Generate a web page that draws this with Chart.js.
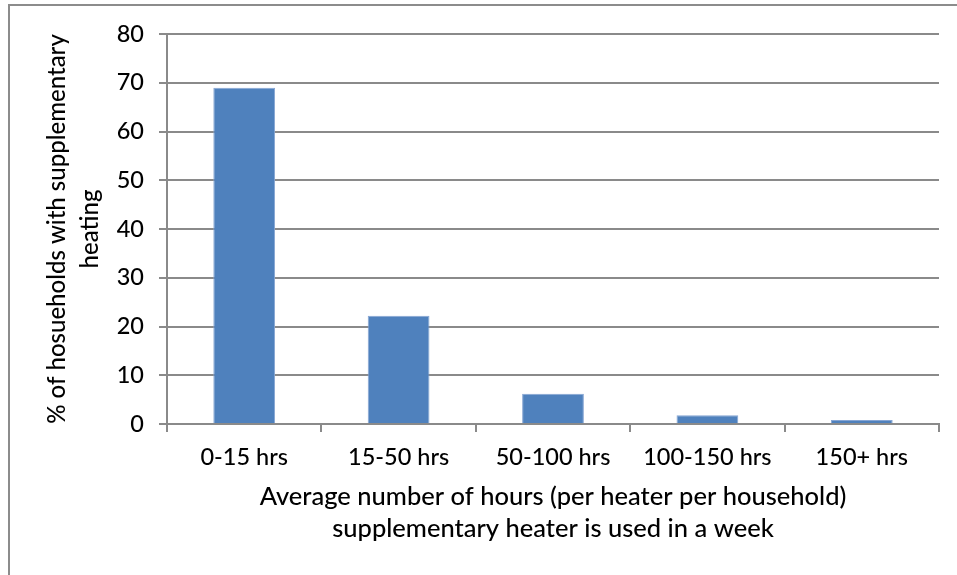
<!DOCTYPE html>
<html>
<head>
<meta charset="utf-8">
<title>Supplementary heater use per week</title>
<script src="https://cdn.jsdelivr.net/npm/chart.js@4/dist/chart.umd.min.js"></script>
<style>
  html, body { margin: 0; padding: 0; background: #ffffff; }
  #wrap { width: 957px; height: 575px; position: relative; }
  canvas { display: block; }
</style>
</head>
<body>
<div id="wrap"><canvas id="chart" width="957" height="575"></canvas></div>
<script>
// Weekly hours bands
const categories = ['0-15 hrs', '15-50 hrs', '50-100 hrs', '100-150 hrs', '150+ hrs'];
// Share of households with supplementary heating (%)
const householdShare = [69, 22.2, 6.2, 1.8, 0.8];
// Value axis range
const yMin = 0;
const yMax = 80;
const yStep = 10;
// Axis titles
const xTitleLines = ['Average number of hours (per heater per household)', 'supplementary heater is used in a week'];
const yTitleLines = ['% of hosueholds with supplementary', 'heating'];

const FONT = 'Lato, "Open Sans", "DejaVu Sans", sans-serif';
const GRID = '#8a8a8a';

// Thin frame around the whole chart object
const framePlugin = {
  id: 'frame',
  beforeDraw(chart) {
    const ctx = chart.ctx;
    ctx.save();
    ctx.strokeStyle = '#8c8c8c';
    ctx.lineWidth = 2;
    ctx.beginPath();
    ctx.moveTo(9, chart.height + 10);
    ctx.lineTo(9, 5);
    ctx.lineTo(chart.width + 10, 5);
    ctx.stroke();
    ctx.restore();
  }
};

new Chart(document.getElementById('chart'), {
  type: 'bar',
  data: {
    labels: categories,
    datasets: [{
      data: householdShare,
      backgroundColor: '#4f81bd',
      borderColor: '#86a5d3',
      borderWidth: 1,
      barPercentage: 0.4,
      categoryPercentage: 1.0
    }]
  },
  options: {
    responsive: false,
    animation: false,
    layout: { padding: { top: 34, right: 18, left: 0, bottom: 0 } },
    plugins: {
      legend: { display: false },
      tooltip: { enabled: false }
    },
    scales: {
      x: {
        afterFit(scale) { scale.height = 151; },
        grid: {
          display: true,
          offset: true,
          drawOnChartArea: false,
          drawTicks: true,
          tickLength: 8,
          color: GRID,
          lineWidth: 2
        },
        border: { display: true, color: GRID, width: 2 },
        ticks: {
          color: '#000000',
          padding: 11,
          maxRotation: 0,
          autoSkip: false,
          font: { family: FONT, size: 23.5, weight: '500' }
        },
        title: {
          display: true,
          text: xTitleLines,
          color: '#000000',
          padding: { top: 0, bottom: 29.5 },
          font: { family: FONT, size: 25.5, weight: '500', lineHeight: 32.5 / 25.5 }
        }
      },
      y: {
        min: yMin,
        max: yMax,
        afterFit(scale) { scale.width = 167; },
        grid: {
          color: GRID,
          lineWidth: 2,
          tickLength: 8,
          drawTicks: true
        },
        border: { display: true, color: GRID, width: 2 },
        ticks: {
          stepSize: yStep,
          color: '#000000',
          padding: 15,
          font: { family: FONT, size: 23.5, weight: '500' }
        },
        title: {
          display: true,
          text: yTitleLines,
          color: '#000000',
          padding: { top: 41.25, bottom: 0 },
          font: { family: FONT, size: 24, weight: '500', lineHeight: 32.8 / 24 }
        }
      }
    }
  },
  plugins: [framePlugin]
});
</script>
</body>
</html>
